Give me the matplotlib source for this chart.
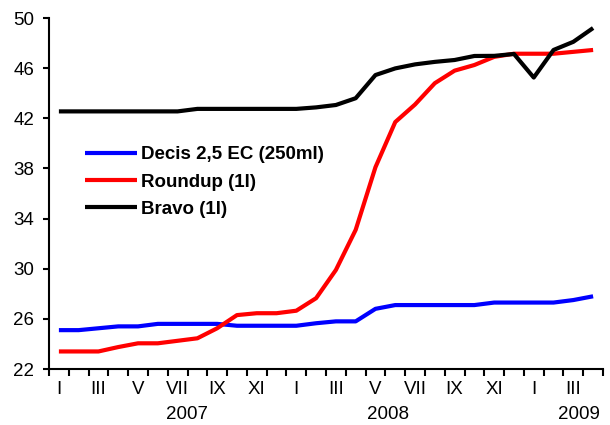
import matplotlib
matplotlib.use("Agg")
import matplotlib.pyplot as plt
import numpy as np

plt.rcParams['font.family'] = ['Liberation Sans', 'DejaVu Sans']

months = list(range(28))
tick_labels = ["I", "III", "V", "VII", "IX", "XI", "I", "III", "V", "VII", "IX", "XI", "I", "III"]
years = ["2007", "2008", "2009"]
year_pos = [6.45, 16.63, 26.28]

decis = [25.1, 25.1, 25.25, 25.4, 25.4, 25.6, 25.6, 25.6, 25.6, 25.45, 25.45, 25.45,
         25.45, 25.65, 25.8, 25.8, 26.8, 27.1, 27.1, 27.1, 27.1, 27.1, 27.3, 27.3,
         27.3, 27.3, 27.5, 27.8]
roundup = [23.4, 23.4, 23.4, 23.75, 24.05, 24.05, 24.25, 24.45, 25.25, 26.3, 26.45, 26.45,
           26.65, 27.65, 29.9, 33.1, 38.1, 41.7, 43.1, 44.8, 45.8, 46.25, 46.9, 47.15,
           47.15, 47.15, 47.3, 47.45]
bravo = [42.55, 42.55, 42.55, 42.55, 42.55, 42.55, 42.55, 42.75, 42.75, 42.75, 42.75, 42.75,
         42.75, 42.87, 43.06, 43.6, 45.45, 45.98, 46.3, 46.5, 46.65, 46.97, 46.98, 47.13,
         45.25, 47.45, 48.1, 49.2]

series = [("Decis 2,5 EC (250ml)", decis, "#0000ff"),
          ("Roundup (1l)", roundup, "#ff0000"),
          ("Bravo (1l)", bravo, "#000000")]

fig = plt.figure(figsize=(6.1, 4.25), dpi=100)
ax = fig.add_axes([49/610, 1-369/425, (603-49)/610, (369-18)/425])

for name, vals, col in series:
    ax.plot(months, vals, color=col, lw=3, label=name, solid_capstyle='butt')

ax.set_xlim(-0.5, 27.5)
ax.set_ylim(22, 50)
ax.set_yticks(np.arange(22, 51, 4))
ax.tick_params(axis='y', direction='out', length=4.5, width=1.5, labelsize=13.5, pad=6)

ax.set_xticks(months[::2])
ax.set_xticklabels(tick_labels)
ax.set_xticks(np.arange(-0.5, 28, 1), minor=True)
ax.tick_params(axis='x', which='major', length=0, labelsize=13.5, pad=9)
ax.tick_params(axis='x', which='minor', direction='out', length=5, width=1.5)

for y, p in zip(years, year_pos):
    ax.text(p, -0.13, y, transform=ax.get_xaxis_transform(), ha='center', va='center', fontsize=13.5)

for s in ['top', 'right']:
    ax.spines[s].set_visible(False)
for s in ['left', 'bottom']:
    ax.spines[s].set_linewidth(1.5)

leg = ax.legend(loc='upper left', bbox_to_anchor=(85/610, 1-146/425), bbox_transform=fig.transFigure,
                frameon=False, prop={'weight': 'bold', 'size': 13.5}, handlelength=2.8,
                handletextpad=0.2, labelspacing=0.55, borderpad=0, borderaxespad=0)

fig.savefig("out.png", dpi=100)
